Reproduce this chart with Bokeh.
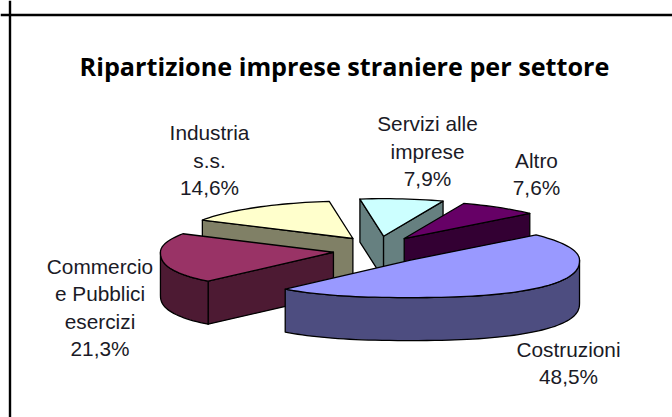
import math
from bokeh.plotting import figure
from bokeh.models import Range1d, Label, Span
from bokeh.embed import file_html
from bokeh.resources import INLINE

# ---- chart data -------------------------------------------------------
categories = ["Costruzioni", "Commercio e Pubblici esercizi", "Industria s.s.",
              "Servizi alle imprese", "Altro"]
values = [48.5, 21.3, 14.6, 7.9, 7.6]
top_colors = ["#9999FF", "#993366", "#FFFFCC", "#CCFFFF", "#660066"]
side_colors = ["#4D4D80", "#4D1A33", "#808066", "#668080", "#330033"]
label_lines = [["Costruzioni", "48,5%"], ["Commercio", "e Pubblici", "esercizi", "21,3%"],
               ["Industria", "s.s.", "14,6%"], ["Servizi alle", "imprese", "7,9%"], ["Altro", "7,6%"]]
label_centres = [(568, 362.5), (99.5, 307), (209, 159.5), (427, 150.5), (536, 173.5)]
title_text = "Ripartizione imprese straniere per settore"

W, H = 672, 417
CX, CY = 378, 249.6    # unexploded pie centre
RX_R, RX_L, RY = 169, 173, 37.5
EX, EY = 45.6, 14      # explosion offset
DEPTH = 43
START = -42.0          # angle where the first slice starts (y down, clockwise)
FRONT_POWER = 2 / 2.4  # the near half of the rim bulges slightly (perspective)

p = figure(width=W, height=H, output_backend="svg", toolbar_location=None,
           x_range=Range1d(0, W), y_range=Range1d(H, 0),
           min_border=0, outline_line_color=None, background_fill_color="white",
           border_fill_color="white")
p.axis.visible = False
p.grid.visible = False

# frame: only the top and left rules are inside the picture
p.add_layout(Span(location=14.5, dimension="width", line_color="black", line_width=2.4))
p.add_layout(Span(location=9.5, dimension="height", line_color="black", line_width=2.4))

# angular extents from values
total = sum(values)
extents = []
a = START
for v in values:
    b = a + v / total * 360
    extents.append((a, b))
    a = b


def rim(t):
    c, s = math.cos(math.radians(t)), math.sin(math.radians(t))
    rx = RX_R if c >= 0 else RX_L
    if s > 0:
        c = math.copysign(abs(c) ** FRONT_POWER, c)
        s = s ** FRONT_POWER
    return rx * c, RY * s


def arc(cx, cy, t0, t1, dz=0.0):
    n = max(2, int(abs(t1 - t0) / 2) + 1)
    ts = [t0 + (t1 - t0) * i / (n - 1) for i in range(n)]
    pts = [rim(t) for t in ts]
    return [cx + q[0] for q in pts], [cy + dz + q[1] for q in pts]


def draw_poly(xs, ys, color):
    p.patch(xs, ys, fill_color=color, line_color="black", line_width=1.3, line_join="round")


# back-to-front painting order
for i in [2, 3, 4, 1, 0]:
    t0, t1 = extents[i]
    mid = math.radians((t0 + t1) / 2)
    ax = CX + EX * math.cos(mid)
    ay = CY + EY * math.sin(mid)
    # radial faces facing the viewer
    for t, vis in ((t0, math.cos(math.radians(t0)) < 0), (t1, math.cos(math.radians(t1)) > 0)):
        if vis:
            dx, dy = rim(t)
            ex, ey = ax + dx, ay + dy
            draw_poly([ax, ex, ex, ax], [ay, ey, ey + DEPTH, ay + DEPTH], side_colors[i])
    # visible outer wall (front half of the rim)
    for lo, hi in ((0, 180), (360, 540), (-360, -180)):
        s0, s1 = max(t0, lo), min(t1, hi)
        if s1 > s0:
            xa, ya = arc(ax, ay, s0, s1)
            xb, yb = arc(ax, ay, s1, s0, DEPTH)
            draw_poly(xa + xb, ya + yb, side_colors[i])
    # top face
    xa, ya = arc(ax, ay, t0, t1)
    draw_poly([ax] + xa, [ay] + ya, top_colors[i])

# title
p.add_layout(Label(x=344, y=65, text=title_text, text_font="Open Sans", text_font_style="bold",
                   text_font_size="25.2px", text_color="black",
                   text_align="center", text_baseline="middle"))

# data labels
LINE = 27.2
for lines, (lx, ly) in zip(label_lines, label_centres):
    n = len(lines)
    for k, s in enumerate(lines):
        p.add_layout(Label(x=lx, y=ly + (k - (n - 1) / 2) * LINE, text=s,
                           text_font="Liberation Sans", text_font_size="20.8px",
                           text_color="#1a1a26", text_align="center", text_baseline="middle"))

open("out.html", "w").write(file_html(p, INLINE))
